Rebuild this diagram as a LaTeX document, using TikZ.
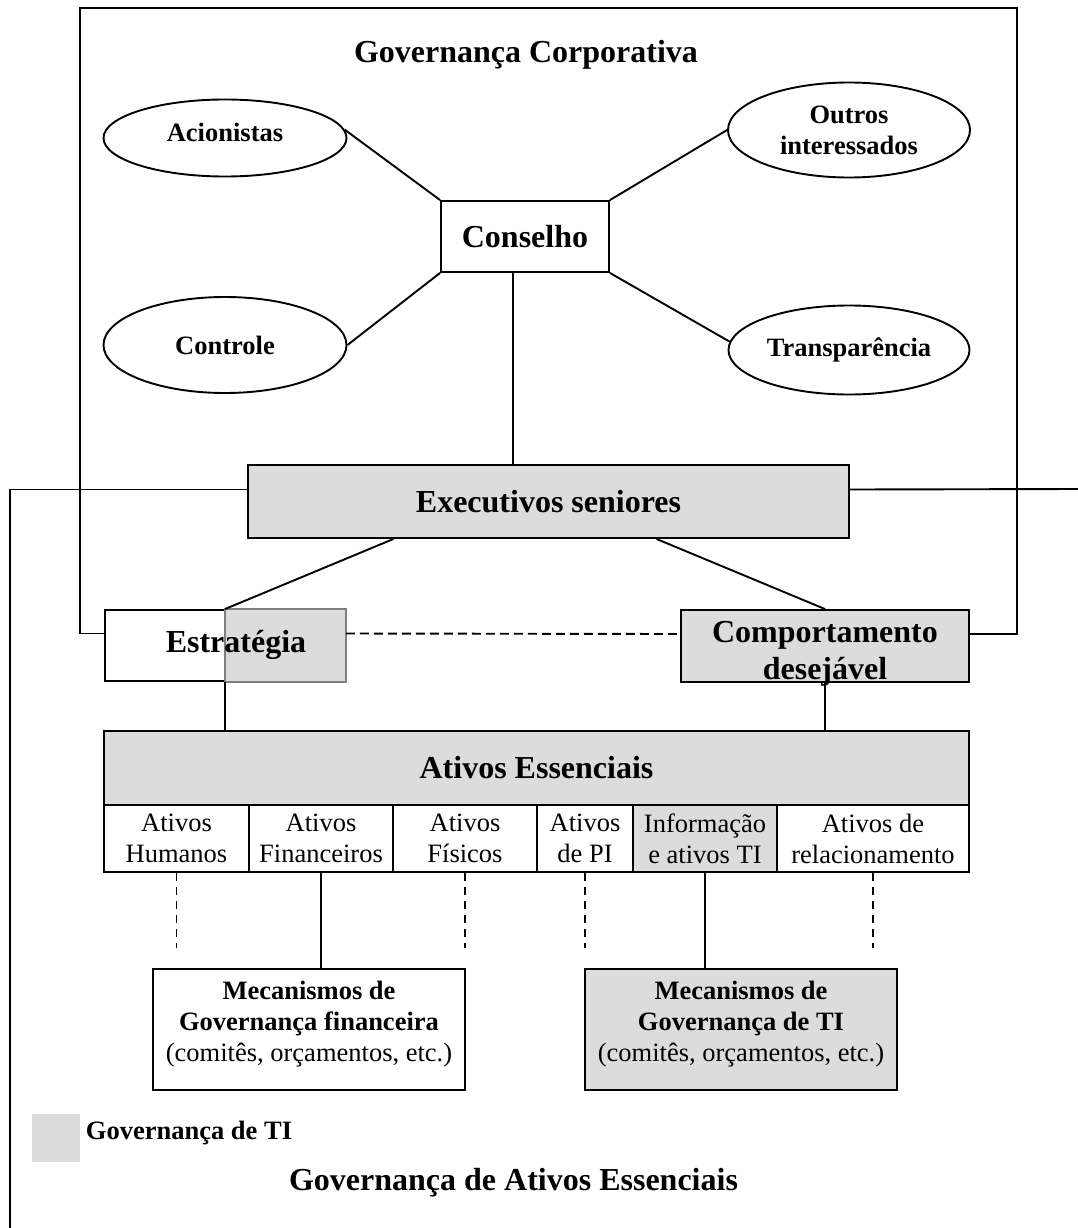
\documentclass[tikz,border=0pt]{standalone}
\usepackage{fontspec}
\setmainfont{Liberation Serif}
\usetikzlibrary{shapes.geometric}
\definecolor{cinza}{HTML}{DCDCDC}
\definecolor{cinzaborda}{HTML}{7F7F7F}

\begin{document}
\begin{tikzpicture}[x=1pt, y=-1pt, line width=1.9pt,
    textogrande/.style={font=\fontsize{32}{37}\selectfont\bfseries},
    textonegrito/.style={font=\fontsize{26.5}{31}\selectfont\bfseries},
    textonormal/.style={font=\fontsize{26.5}{31}\selectfont},
    caixa/.style={rectangle, draw, inner sep=0pt, align=center},
    elipse/.style={ellipse, draw, inner sep=0pt, align=center, textonegrito},
    celula/.style={caixa, textonormal, minimum height=67pt},
    tracejado/.style={dash pattern=on 8pt off 6pt}]
    \useasboundingbox (0,0) rectangle (1078,1228);

    % Governança corporativa
    \node[textogrande] (gc) at (526,55) {Governança Corporativa};
    \node[elipse, minimum width=243pt, minimum height=77pt, text depth=12pt] (acio) at (225,138) {Acionistas};
    \node[elipse, minimum width=242pt, minimum height=95pt] (outros) at (849,130) {Outros\\interessados};
    \node[elipse, minimum width=243pt, minimum height=96pt] (contr) at (225,345) {Controle};
    \node[elipse, minimum width=241pt, minimum height=89pt] (transp) at (849,350) {Transparência};
    \node[caixa, textogrande, minimum width=168pt, minimum height=71pt] (cons) at (525,236.5) {Conselho};

    % Executivos, estratégia e comportamento
    \node[caixa, textogrande, fill=cinza, minimum width=601pt, minimum height=73pt] (exec) at (548.5,501.5) {Executivos seniores};
    \node[caixa, fill=white, minimum width=240pt, minimum height=71pt] (estr) at (225,645.5) {};
    \draw[fill=cinza, draw=cinzaborda, line width=1.3pt] (estr.north) rectangle (estr.south east);
    \node[textogrande] (estrtxt) at (236,645) {Estratégia};
    \node[caixa, fill=cinza, minimum width=288pt, minimum height=72pt,
        label={[textogrande, align=center, yshift=-8pt]center:{Comportamento\\desejável}}] (comp) at (825,646) {};

    % Ativos essenciais
    \node[caixa, textogrande, fill=cinza, minimum width=865pt, minimum height=74pt] (ativ) at (536.5,768) {Ativos Essenciais};
    \node[celula, minimum width=145pt] (ahum) at (176.5,838.5) {Ativos\\Humanos};
    \node[celula, minimum width=144pt] (afin) at (321,838.5) {Ativos\\Financeiros};
    \node[celula, minimum width=144pt] (afis) at (465,838.5) {Ativos\\Físicos};
    \node[celula, minimum width=96pt] (api) at (585,838.5) {Ativos\\de PI};
    \node[celula, fill=cinza, minimum width=144pt] (ainfo) at (705,838.5) {Informação\\e ativos TI};
    \node[celula, minimum width=192pt] (arel) at (873,838.5) {Ativos de\\relacionamento};

    % Mecanismos
    \node[caixa, textonormal, fill=white, minimum width=312pt, minimum height=121pt, text depth=16pt] (mecfin) at (309,1029.5)
        {\textbf{Mecanismos de}\\\textbf{Governança financeira}\\(comitês, orçamentos, etc.)};
    \node[caixa, textonormal, fill=cinza, minimum width=312pt, minimum height=121pt, text depth=16pt] (mecti) at (741,1029.5)
        {\textbf{Mecanismos de}\\\textbf{Governança de TI}\\(comitês, orçamentos, etc.)};

    % Legenda
    \node[fill=cinza, inner sep=0pt, minimum size=48pt] (leg) at (56,1137.5) {};
    \node[textonegrito, anchor=west, inner sep=0pt] (legtxt) at (85,1133) {Governança de TI};
    \node[textogrande] (gae) at (513.5,1183) {Governança de Ativos Essenciais};

    % Cantos das molduras
    \coordinate (gcno) at (80,8);
    \coordinate (gcne) at (1017,8);
    \coordinate (gaeso) at (10,1228);
    \coordinate (gaeleste) at (1078,489);

    % Ligações
    \draw (acio.4) -- (cons.north west);
    \draw (outros.west) -- (cons.north east);
    \draw (contr.east) -- (cons.south west);
    \draw (transp.176) -- (cons.south east);
    \draw ([xshift=-12pt]cons.south) -- ([xshift=-12pt]cons.south |- exec.north);
    \draw ([xshift=-155pt]exec.south) -- (estr.north);
    \draw ([xshift=108pt]exec.south) -- (comp.north);
    \draw[dash pattern=on 9pt off 5pt] ([yshift=12pt]estr.east) -- ([yshift=12pt]comp.west);
    \draw (estr.south) -- (estr.south |- ativ.north);
    \draw (comp.south) -- (comp.south |- ativ.north);
    \draw (afin.south) -- (afin.south |- mecfin.north);
    \draw (ainfo.south) -- (ainfo.south |- mecti.north);
    \foreach \c in {ahum, afis, api, arel}
        \draw[tracejado] (\c.south) -- ++(0,75);

    % Molduras
    \draw ([yshift=12pt]estr.west) -| (gcno) -- (gcne) |- ([yshift=12pt]comp.east);
    \draw (gaeso) |- ([yshift=12pt]exec.west);
    \draw ([yshift=12pt]exec.east) -- (gaeleste);
\end{tikzpicture}
\end{document}
